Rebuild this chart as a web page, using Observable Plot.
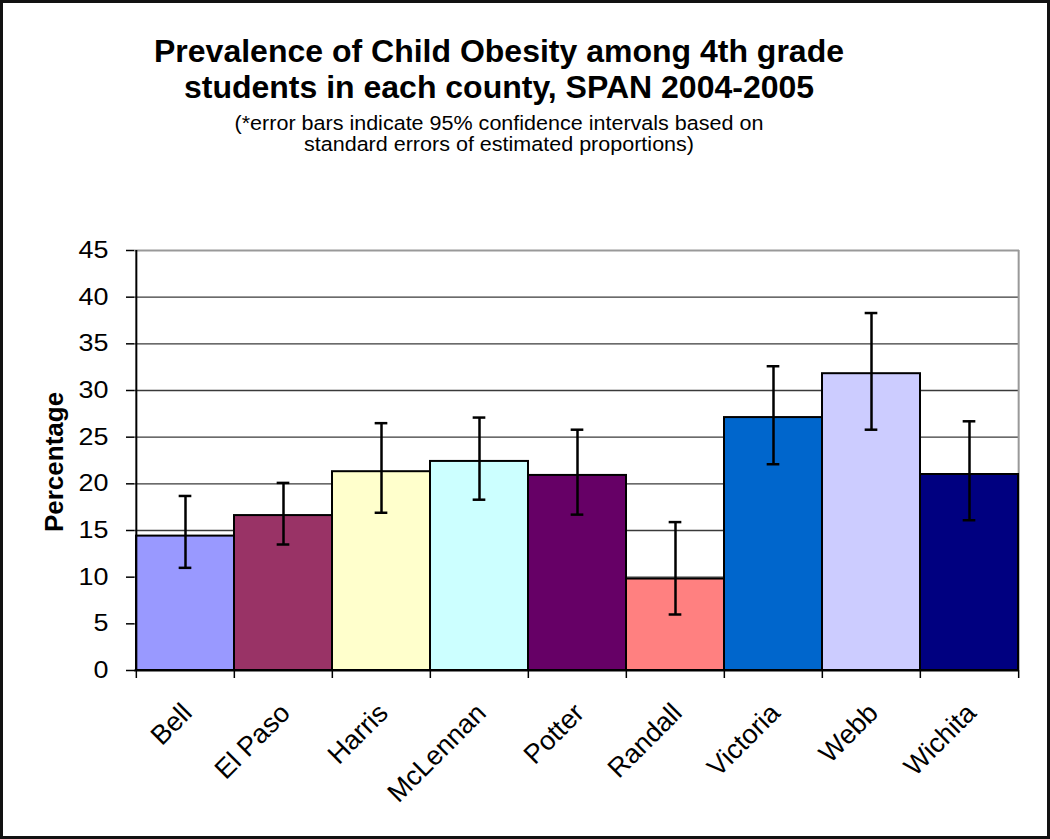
<!DOCTYPE html>
<html>
<head>
<meta charset="utf-8">
<script src="https://cdn.jsdelivr.net/npm/d3@7"></script>
<script src="https://cdn.jsdelivr.net/npm/@observablehq/plot@0.6"></script>
<style>
  body { margin: 0; background: #fff; }
  #frame { position: relative; width: 1050px; height: 839px; overflow: hidden; background: #fff;
           font-family: "Liberation Sans", Arial, sans-serif; color: #000; }
  #border { position: absolute; left: 0; top: 0; width: 1050px; height: 839px; box-sizing: border-box;
            border: 3px solid #111; pointer-events: none; z-index: 5; }
  #chart { position: absolute; left: 0; top: 0; }
  .t { position: absolute; left: 0; width: 998px; text-align: center; white-space: nowrap; }
  #title { top: 33px; font-size: 32px; font-weight: bold; line-height: 36px; }
  #sub { top: 112px; font-size: 20.5px; line-height: 21px; transform: scaleX(1.05); }
  #ylabel { position: absolute; left: 54px; top: 462px; font-size: 26px; font-weight: bold;
            transform: translate(-50%, -50%) rotate(-90deg); white-space: nowrap; }
</style>
</head>
<body>
<div id="frame">
  <div id="chart"></div>
  <div class="t" id="title">Prevalence of Child Obesity among 4th grade<br>students in each county, SPAN 2004-2005</div>
  <div class="t" id="sub">(*error bars indicate 95% confidence intervals based on<br>standard errors of estimated proportions)</div>
  <div id="ylabel">Percentage</div>
  <div id="border"></div>
</div>
<script>
// ---- data ----
const counties   = ["Bell", "El Paso", "Harris", "McLennan", "Potter", "Randall", "Victoria", "Webb", "Wichita"];
const prevalence = [14.4, 16.6, 21.3, 22.4, 20.9, 9.8, 27.1, 31.8, 21.0];
const ciLow      = [11.0, 13.5, 16.9, 18.3, 16.7, 6.0, 22.1, 25.8, 16.1];
const ciHigh     = [18.7, 20.1, 26.5, 27.1, 25.8, 15.9, 32.6, 38.3, 26.7];
const barColors  = ["#9999FF", "#993366", "#FFFFCC", "#CCFFFF", "#660066", "#FF8080", "#0066CC", "#CCCCFF", "#000080"];
const yTicks     = [0, 5, 10, 15, 20, 25, 30, 35, 40, 45];

const data = counties.map((c, i) => ({county: c, value: prevalence[i], low: ciLow[i], high: ciHigh[i]}));

// ---- layout ----
const W = 1050, H = 839;
const ml = 134, mr = 31, mt = 250, mb = 169;
const bw = (W - ml - mr) / counties.length;
const capInset = (bw - 13) / 2;
const yMax = yTicks[yTicks.length - 1];

const chart = Plot.plot({
  width: W, height: H,
  marginLeft: ml, marginRight: mr, marginTop: mt, marginBottom: mb,
  style: { fontFamily: "'Liberation Sans', Arial, sans-serif", background: "transparent", color: "#000" },
  x: { domain: counties, padding: 0, axis: null },
  y: { domain: [0, yMax], axis: null },
  color: { domain: counties, range: barColors },
  marks: [
    Plot.ruleY(yTicks.filter(d => d > 0 && d < yMax), { stroke: "#3a3a3a", strokeWidth: 1.3 }),
    Plot.ruleY([yMax], { stroke: "#999", strokeWidth: 2 }),
    Plot.ruleX([counties[counties.length - 1]], { dx: bw / 2, y1: 0, y2: yMax, stroke: "#999", strokeWidth: 2 }),
    Plot.barY(data, { x: "county", y: "value", fill: "county", stroke: "#000", strokeWidth: 2 }),
    Plot.ruleX(data, { x: "county", y1: "low", y2: "high", stroke: "#000", strokeWidth: 2.5 }),
    Plot.tickY(data, { x: "county", y: "low", stroke: "#000", strokeWidth: 2.5, insetLeft: capInset, insetRight: capInset }),
    Plot.tickY(data, { x: "county", y: "high", stroke: "#000", strokeWidth: 2.5, insetLeft: capInset, insetRight: capInset }),
    Plot.ruleY([0], { stroke: "#000", strokeWidth: 2 }),
    Plot.ruleX([counties[0]], { dx: -bw / 2, y1: 0, y2: yMax, stroke: "#000", strokeWidth: 2 }),
    Plot.axisY({ ticks: yTicks, tickSize: 8, tickPadding: 18, fontSize: 23, label: null, stroke: "#000", strokeWidth: 1.5 }),
    Plot.axisX({ ticks: counties, tickSize: 8, dx: -bw / 2, tickFormat: () => "", label: null, stroke: "#000", strokeWidth: 1.5 }),
    Plot.axisX({ ticks: [counties[counties.length - 1]], tickSize: 8, dx: bw / 2, tickFormat: () => "", label: null, stroke: "#000", strokeWidth: 1.5 }),
    Plot.axisX({ ticks: counties, tickSize: 0, tickPadding: 38, tickRotate: -45, dx: 2, fontSize: 27, label: null })
  ]
});

// stretch tick labels horizontally (the reference text is horizontally widened)
function stretch(selector, s) {
  chart.querySelectorAll(selector).forEach(t => {
    const tr = t.getAttribute("transform") || "";
    const m = tr.match(/translate\(([^)]*)\)/);
    if (m) {
      const rest = tr.replace(m[0], "");
      t.setAttribute("transform", `${m[0]} scale(${s},1) ${rest}`);
    } else {
      const x = +(t.getAttribute("x") || 0), y = +(t.getAttribute("y") || 0);
      t.setAttribute("x", 0); t.setAttribute("y", 0);
      t.setAttribute("transform", `translate(${x},${y}) scale(${s},1) ${tr}`);
    }
  });
}
stretch('g[aria-label="y-axis tick label"] text', 1.17);

document.getElementById("chart").appendChild(chart);
</script>
</body>
</html>
